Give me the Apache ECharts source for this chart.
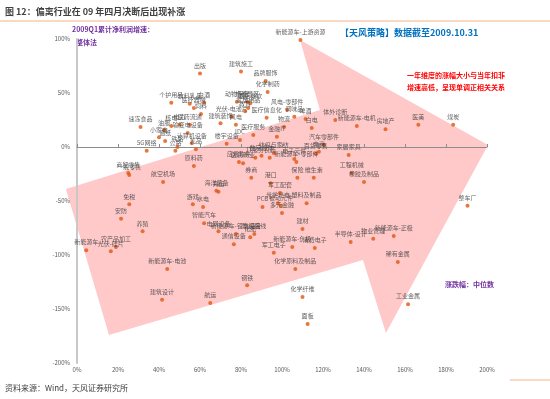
<!DOCTYPE html>
<html>
<head>
<meta charset="utf-8">
<script src="https://cdn.jsdelivr.net/npm/echarts@6/dist/echarts.min.js"></script>
<style>
  html, body { margin: 0; padding: 0; background: #fff; }
  #chart { width: 550px; height: 399px; }
</style>
</head>
<body>
<div id="chart"></div>
<script>
// 行业名称、当年扣非增速(x, %)、一年涨跌幅中位数(y, %)
var names = ['新能源车-上游资源','出版','建筑施工','品牌服饰','化学制药','个护用品','饮料乳品','白酒','医疗器械','速冻食品',
  '核电','饲料','医药流通','电力','油服','输变电设备','小家电','造纸','5G网络','公路',
  '铁路','计算机设备','乳品','动物保健','旅游景区','酒店餐饮','教育','家居用品','风电-零部件','医疗信息化',
  '调味品','啤酒','白电','风电','建筑装饰','光伏-电池片','物流','医疗服务','金融IT','楼宇设备',
  'IDC','汽车零部件','体外诊断','新能源车-电机','房地产','医美','煤炭','纺织与家纺','百货零售','电商',
  '家居家具','应用软件','医药商业','新能源车-零部件','电子元件','IT服务','数字媒体','农药','券商','港口',
  '保险','维生素','工程机械','橡胶及制品','整车厂','半导体-设计','物业管理','新能源车-正极','稀有金属','工业金属',
  '化学纤维','面板','钢铁','航运','建筑设计','新能源车-电池','化学原料及制品','原料药','商贸零售','一般零售',
  '航空机场','免税','安防','养殖','农产品加工','光伏-硅片','新能源车','游戏','水电','智能汽车',
  '海洋装备','海运','军工配套','PCB','光学光电','被动元件','多元金融','塑料及制品','建材','电网设备',
  '新能源车-锂电设备','化肥','影视院线','通信设备','军工电子','新能源车-负极','消费电子'];
var xs = [109,60,80,92,93,46,55,62,57,31,
  46,60.5,55,50,42.5,54,40,43,34,48,
  49,56,58,78,83,84.5,82,83.5,102.5,92.5,
  106,111.5,114.5,77.5,70,75.5,101,86,97.5,73,
  79.5,120.5,126,136.5,150.5,166.5,183.5,96,116.5,118,
  132.5,79,81,107,106,87,90,94,85,94.5,
  107.5,115.5,134,140,190.5,133.5,144.5,154.5,156.5,161.5,
  110,112.5,83,65,41.5,44,106.5,57,25,25.5,
  42,25.5,21.5,32,19,16.5,4.5,56.5,61.5,62,
  68,69,99,90.5,98,99.5,100,112,110,69,
  77.5,84.5,86.5,76.5,96,105,116];
var ys = [99,68,70,61,51,41,40,41,36,18.5,
  19.5,30.5,20.5,20.5,15.5,13,9,5.5,-3.5,-3.5,
  0,3.5,-2,42,42,40.5,33,36,34.5,27,
  28,26,17.5,20.5,22,28,18.5,11,9.5,3,
  6.5,2,25,19.5,16.5,20.5,20.5,-5.5,-6.5,-4.5,
  -7.5,-14,-15,-14,-11,-10,-8,-10,-28.5,-33.5,
  -28.5,-28.5,-24,-32.5,-54.5,-88,-85,-82.5,-106.5,-145.5,
  -139,-164,-128,-144.5,-141.5,-113,-113,-17.5,-24,-26,
  -32.5,-53,-66.5,-78,-92.5,-96.5,-95.5,-53,-55.5,-70.5,
  -40.5,-41.5,-42.5,-55.5,-52,-54.5,-61,-52,-76,-78,
  -80.5,-83.5,-80.5,-90,-98,-92.5,-93.5];

// 背景箭头（数据坐标）
var arrowX = [-5.4, 118.5, 108.8, 200.5, 150.7, 139.5, 15.6];
var arrowY = [-38.9, 34.3, 99.1, 1.9, -172.2, -104.6, -174.1];

var xTicks = [0, 200, 20];
var yTicks = [-200, 100, 50];

var cjk = "'Noto Sans CJK SC', 'Noto Sans', sans-serif";

var points = [];
for (var i = 0; i < names.length; i++) {
    points.push({ name: names[i], value: [xs[i], ys[i]] });
}

var chart = echarts.init(document.getElementById('chart'));

var option = {
    animation: false,
    backgroundColor: '#fff',
    textStyle: { fontFamily: cjk },
    grid: { left: 77, right: 63, top: 39, bottom: 36 },
    xAxis: [{
        type: 'value',
        min: xTicks[0], max: xTicks[1], interval: xTicks[2],
        position: 'bottom',
        axisLine: { show: false, onZero: false },
        axisTick: { show: false },
        splitLine: { show: false },
        axisLabel: { fontSize: 6, color: '#595959', margin: 4, formatter: '{value}%' }
    }, {
        type: 'value',
        min: xTicks[0], max: xTicks[1], interval: xTicks[2],
        position: 'top',
        axisLine: { show: true, onZero: true, lineStyle: { color: '#8c8c8c', width: 1 } },
        axisTick: { show: true, length: 3, lineStyle: { color: '#8c8c8c' } },
        axisLabel: { show: false },
        splitLine: { show: false }
    }],
    yAxis: {
        type: 'value',
        min: yTicks[0], max: yTicks[1], interval: yTicks[2],
        axisLine: { show: true, onZero: false, lineStyle: { color: '#c8c8c8', width: 2 } },
        axisTick: { show: false },
        splitLine: { show: false },
        axisLabel: { fontSize: 6, color: '#595959', margin: 7, formatter: '{value}%' }
    },
    series: [{
        type: 'custom',
        z: -1,
        silent: true,
        clip: false,
        data: [[0, 0]],
        renderItem: function (params, api) {
            var pts = [];
            for (var k = 0; k < arrowX.length; k++) {
                pts.push(api.coord([arrowX[k], arrowY[k]]));
            }
            return {
                type: 'polygon',
                shape: { points: pts },
                style: { fill: '#ffc9c9', stroke: null }
            };
        }
    }, {
        type: 'scatter',
        symbolSize: 4,
        itemStyle: { color: '#e0560e' },
        label: {
            show: true,
            position: 'top',
            distance: 3,
            fontSize: 6,
            color: '#3a3a3a',
            fontFamily: cjk,
            formatter: '{b}'
        },
        data: points
    }],
    graphic: [
        { type: 'text', x: 5, y: 12, style: { text: '图 12：偏离行业在 09 年四月决断后出现补涨', font: 'bold 9px ' + cjk, fill: '#404040', textVerticalAlign: 'middle' } },
        { type: 'line', shape: { x1: 0, y1: 21, x2: 550, y2: 21 }, style: { stroke: '#f4b183', lineWidth: 1 } },
        { type: 'text', x: 72, y: 29, style: { text: '2009Q1累计净利润增速：', font: 'bold 7px ' + cjk, fill: '#7030a0', textVerticalAlign: 'middle' } },
        { type: 'text', x: 76, y: 42, style: { text: '整体法', font: 'bold 7px ' + cjk, fill: '#7030a0', textVerticalAlign: 'middle' } },
        { type: 'text', x: 340, y: 33, style: { text: '【天风策略】数据截至2009.10.31', font: 'bold 9px ' + cjk, fill: '#0070c0', textVerticalAlign: 'middle' } },
        { type: 'text', x: 407, y: 75, style: { text: '一年维度的涨幅大小与当年扣非', font: 'bold 7px ' + cjk, fill: '#ff0000', textVerticalAlign: 'middle' } },
        { type: 'text', x: 407, y: 87, style: { text: '增速高低，呈现单调正相关关系', font: 'bold 7px ' + cjk, fill: '#ff0000', textVerticalAlign: 'middle' } },
        { type: 'text', x: 445, y: 284, style: { text: '涨跌幅：中位数', font: 'bold 7px ' + cjk, fill: '#7030a0', textVerticalAlign: 'middle' } },
        { type: 'line', shape: { x1: 510, y1: 380, x2: 550, y2: 380 }, style: { stroke: '#f8cbad', lineWidth: 1.5 } },
        { type: 'text', x: 5, y: 388, style: { text: '资料来源：Wind，天风证券研究所', font: '8px ' + cjk, fill: '#404040', textVerticalAlign: 'middle' } }
    ]
};

chart.setOption(option);
</script>
</body>
</html>
